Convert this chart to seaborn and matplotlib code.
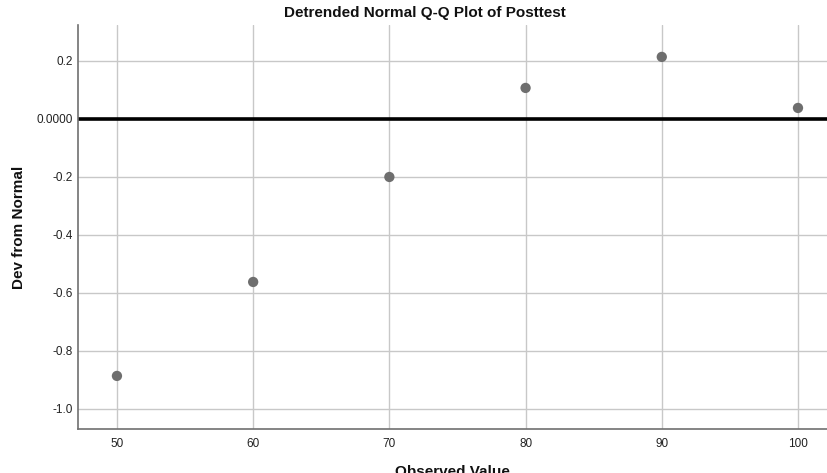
import matplotlib
matplotlib.use("Agg")
import matplotlib.pyplot as plt
import seaborn as sns
import pandas as pd

# Observed scores and their deviation from the normal expectation
observed = [50, 60, 70, 80, 90, 100]
deviation = [-0.886, -0.562, -0.200, 0.107, 0.214, 0.038]
x_ticks = [50, 60, 70, 80, 90, 100]
y_ticks = [0.2, 0.0, -0.2, -0.4, -0.6, -0.8, -1.0]
y_tick_labels = ["0.2", "0.0000", "-0.2", "-0.4", "-0.6", "-0.8", "-1.0"]

sns.set_theme(style="white")
plt.rcParams["font.family"] = ["Liberation Sans", "DejaVu Sans"]

df = pd.DataFrame({"Observed Value": observed, "Dev from Normal": deviation})

fig = plt.figure(figsize=(8.27, 4.73), dpi=100)
ax = fig.add_axes([78 / 827, 1 - 429 / 473, 1 - 78 / 827, (429 - 25) / 473])

ax.set_xlim(47.14, 102.13)
ax.set_ylim(-1.069, 0.324)

ax.grid(True, color="#c8c8c8", linewidth=1.0)
ax.set_axisbelow(True)
ax.axhline(0, color="black", linewidth=2.6, zorder=2)

sns.scatterplot(data=df, x="Observed Value", y="Dev from Normal", ax=ax,
                color="#6e6e6e", s=55, edgecolor="none", zorder=3)

ax.set_xticks(x_ticks)
ax.set_xticklabels([str(v) for v in x_ticks], fontsize=8.5, color="#222222")
ax.set_yticks(y_ticks)
ax.set_yticklabels(y_tick_labels, fontsize=8.5, color="#222222")
ax.tick_params(axis="x", length=0, pad=6.5)
ax.tick_params(axis="y", length=0, pad=4)

for side in ("top", "right"):
    ax.spines[side].set_visible(False)
for side in ("left", "bottom"):
    ax.spines[side].set_color("#707070")
    ax.spines[side].set_linewidth(1.2)

ax.set_xlabel("Observed Value", fontsize=11, fontweight="bold", color="#111111")
ax.xaxis.set_label_coords(0.5, -0.09)
ax.set_ylabel("Dev from Normal", fontsize=11, fontweight="bold", color="#111111")
ax.yaxis.set_label_coords(-0.069, 0.50)

fig.text(0.514, 0.972, "Detrended Normal Q-Q Plot of Posttest", ha="center", va="center",
         fontsize=11, fontweight="bold", color="#111111")

fig.savefig("out.png", dpi=100)
